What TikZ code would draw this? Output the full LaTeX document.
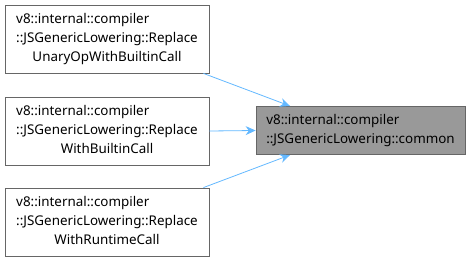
\documentclass[tikz,border=0pt]{standalone}
\usepackage{fontspec}
\setmainfont{Noto Sans}
\usetikzlibrary{arrows.meta}
\newcommand{\fnlabel}[3]{\begin{tabular}{@{}l@{}}#1\\#2\\\multicolumn{1}{@{}c@{}}{#3}\end{tabular}}
\begin{document}
\begin{tikzpicture}[x=1pt,y=-1pt,
  fnbox/.style={draw=black!60, fill=white, line width=0.8pt, minimum width=204pt, minimum height=68pt, inner sep=0pt, align=center, font=\fontsize{13.4}{19}\selectfont},
  selbox/.style={draw=black!60, fill=black!40, line width=0.8pt, minimum width=209pt, minimum height=48pt, inner sep=0pt, align=left, font=\fontsize{13.4}{18.5}\selectfont},
  callarrow/.style={draw={rgb,255:red,99;green,184;blue,255}, line width=0.8pt, -{Stealth[length=10pt,width=9pt]}}]
\useasboundingbox (0,0) rectangle (471,262);
\node[selbox] (common) at (360.5,130.5) {v8::internal::compiler\\::JSGenericLowering::common};
\node[fnbox] (unary) at (107,39) {\fnlabel{v8::internal::compiler}{::JSGenericLowering::Replace}{UnaryOpWithBuiltinCall}};
\node[fnbox] (builtin) at (107,131) {\fnlabel{v8::internal::compiler}{::JSGenericLowering::Replace}{WithBuiltinCall}};
\node[fnbox] (runtime) at (107,222) {\fnlabel{v8::internal::compiler}{::JSGenericLowering::Replace}{WithRuntimeCall}};
\draw[callarrow] (unary.south east) ++(-6,0) coordinate (u0) (u0) -- (290,106);
\draw[callarrow] (builtin.east) -- (common.west);
\draw[callarrow] (runtime.north east) ++(-6,0) coordinate (r0) (r0) -- (290,155);
\end{tikzpicture}
\end{document}
